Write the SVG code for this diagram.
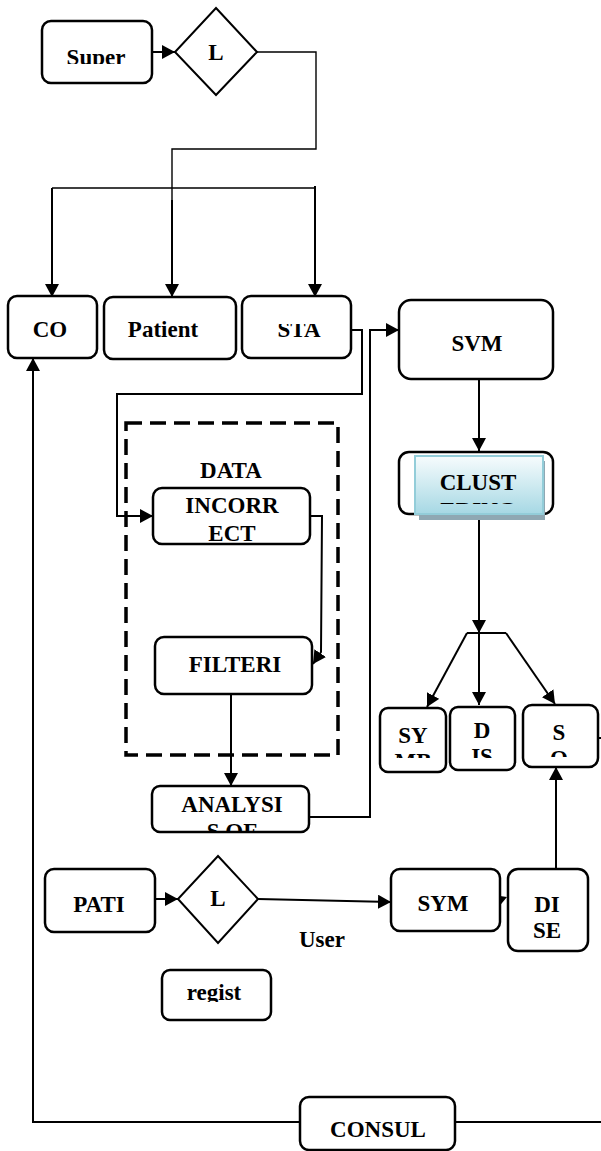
<svg xmlns="http://www.w3.org/2000/svg" width="601" height="1151" viewBox="0 0 601 1151">
  <style>
    .box { fill: #ffffff; stroke: #000000; stroke-width: 2.5; }
    .dia { fill: #ffffff; stroke: #000000; stroke-width: 2; }
    .lbl { font-family: "Liberation Serif", "Times New Roman", serif; font-weight: bold; font-size: 23px; fill: #000000; text-anchor: middle; }
    .wire { fill: none; stroke: #000000; stroke-width: 2; }
    .thin { fill: none; stroke: #000000; stroke-width: 1.4; }
    .dash { fill: none; stroke: #000000; stroke-width: 3.5; stroke-dasharray: 16 8; }
  </style>
  <defs>
    <marker id="arrow" markerUnits="userSpaceOnUse" markerWidth="14" markerHeight="14" refX="13" refY="7" orient="auto">
      <path d="M0,0 L13,7 L0,14 Z" fill="#000000"/>
    </marker>
    <linearGradient id="clusterFill" x1="0" y1="0" x2="0" y2="1">
      <stop offset="0" stop-color="#f7fcfd"/>
      <stop offset="1" stop-color="#a6d8e4"/>
    </linearGradient>
    <clipPath id="clipSuper"><rect x="42" y="21" width="110" height="43"/></clipPath>
    <clipPath id="clipSta"><rect x="242" y="324" width="109" height="34"/></clipPath>
    <clipPath id="clipIncorrect"><rect x="153" y="488" width="157" height="55"/></clipPath>
    <clipPath id="clipCluster"><rect x="415" y="456" width="128" height="48"/></clipPath>
    <clipPath id="clipAnalysis"><rect x="152" y="786" width="157" height="45"/></clipPath>
    <clipPath id="clipSymb"><rect x="380" y="708" width="66" height="50"/></clipPath>
    <clipPath id="clipDis"><rect x="450" y="707" width="65" height="51"/></clipPath>
    <clipPath id="clipSo"><rect x="523" y="705" width="75" height="52"/></clipPath>
    <clipPath id="clipRegist"><rect x="162" y="970" width="109" height="32"/></clipPath>
  </defs>

  <!-- connectors -->
  <g id="connectors">
    <path class="wire" d="M152,52 H175" marker-end="url(#arrow)"/>
    <path class="thin" d="M257,52 H316 V149 H172 V298" />
    <path class="wire" d="M172,200 V297" marker-end="url(#arrow)"/>
    <path class="thin" d="M52,188 H315 V186"/>
    <path class="wire" d="M52,188 V297" marker-end="url(#arrow)"/>
    <path class="wire" d="M315,186 V297" marker-end="url(#arrow)"/>
    <path class="wire" d="M351,330 H362 V394 H117 V516 H153" marker-end="url(#arrow)"/>
    <path class="wire" d="M309,817 H370 V330 H399" marker-end="url(#arrow)"/>
    <path class="wire" d="M479,379 V451" marker-end="url(#arrow)"/>
    <path class="wire" d="M310,516 H322 L321,652 L313,664" marker-end="url(#arrow)"/>
    <path class="wire" d="M231,694 V786" marker-end="url(#arrow)"/>
    <path class="wire" d="M479,514 V633" marker-end="url(#arrow)"/>
    <path class="wire" d="M467,633 H506"/>
    <path class="wire" d="M467,633 L427,707" marker-end="url(#arrow)"/>
    <path class="wire" d="M479,633 V705" marker-end="url(#arrow)"/>
    <path class="wire" d="M506,633 L555,704" marker-end="url(#arrow)"/>
    <path class="wire" d="M598,738 H601"/>
    <path class="wire" d="M155,899 H178" marker-end="url(#arrow)"/>
    <path class="wire" d="M258,899 L391,902" marker-end="url(#arrow)"/>
    <polygon points="493,895 507,897 497,909" fill="#000000"/>
    <path class="wire" d="M556,869 V767" marker-end="url(#arrow)"/>
    <path class="wire" d="M300,1122 H33 V358" marker-end="url(#arrow)"/>
    <path class="wire" d="M455,1122 H601"/>
  </g>

  <g id="super">
    <rect class="box" x="42" y="21" width="110" height="62" rx="9"/>
    <text class="lbl" x="96" y="65" clip-path="url(#clipSuper)">Super</text>
  </g>
  <g id="login-top">
    <polygon class="dia" points="216,8 257,52 216,95 175,52"/>
    <text class="lbl" x="216" y="60">L</text>
  </g>
  <g id="co">
    <rect class="box" x="8" y="296" width="89" height="62" rx="9"/>
    <text class="lbl" x="50" y="337">CO</text>
  </g>
  <g id="patient">
    <rect class="box" x="104" y="297" width="132" height="62" rx="9"/>
    <text class="lbl" x="163" y="337">Patient</text>
  </g>
  <g id="sta">
    <rect class="box" x="242" y="296" width="109" height="62" rx="9"/>
    <text class="lbl" x="299" y="337" clip-path="url(#clipSta)">STA</text>
  </g>
  <g id="svm">
    <rect class="box" x="399" y="300" width="154" height="79" rx="12"/>
    <text class="lbl" x="477" y="351">SVM</text>
  </g>
  <g id="data-group">
    <rect class="dash" x="126" y="423" width="212" height="332"/>
    <text class="lbl" x="231" y="478">DATA</text>
  </g>
  <g id="incorrect">
    <rect class="box" x="153" y="488" width="157" height="56" rx="9"/>
    <g clip-path="url(#clipIncorrect)">
      <text class="lbl" x="232" y="513">INCORR</text>
      <text class="lbl" x="232" y="541">ECT</text>
    </g>
  </g>
  <g id="clustering">
    <rect class="box" x="399" y="452" width="154" height="62" rx="10"/>
    <rect x="419" y="461" width="126" height="59" fill="#8fa8b3"/>
    <rect x="415" y="456" width="128" height="58" fill="url(#clusterFill)" stroke="#93cdd9" stroke-width="2"/>
    <g clip-path="url(#clipCluster)">
      <text class="lbl" x="478" y="490">CLUST</text>
      <text class="lbl" x="478" y="518">ERING</text>
    </g>
  </g>
  <g id="filtering">
    <rect class="box" x="155" y="637" width="157" height="57" rx="9"/>
    <text class="lbl" x="235" y="672">FILTERI</text>
  </g>
  <g id="analysis">
    <rect class="box" x="152" y="786" width="157" height="46" rx="8"/>
    <g clip-path="url(#clipAnalysis)">
      <text class="lbl" x="232" y="812">ANALYSI</text>
      <text class="lbl" x="232" y="839">S OF</text>
    </g>
  </g>
  <g id="symb">
    <rect class="box" x="380" y="708" width="66" height="64" rx="8"/>
    <g clip-path="url(#clipSymb)">
      <text class="lbl" x="413" y="743">SY</text>
      <text class="lbl" x="413" y="769">MB</text>
    </g>
  </g>
  <g id="dis">
    <rect class="box" x="450" y="707" width="65" height="63" rx="8"/>
    <g clip-path="url(#clipDis)">
      <text class="lbl" x="482" y="738">D</text>
      <text class="lbl" x="482" y="764">IS</text>
    </g>
  </g>
  <g id="so">
    <rect class="box" x="523" y="705" width="75" height="62" rx="9"/>
    <g clip-path="url(#clipSo)">
      <text class="lbl" x="559" y="740">S</text>
      <text class="lbl" x="559" y="766">O</text>
    </g>
  </g>
  <g id="pati">
    <rect class="box" x="45" y="869" width="110" height="63" rx="9"/>
    <text class="lbl" x="99" y="912">PATI</text>
  </g>
  <g id="login-bottom">
    <polygon class="dia" points="218,856 258,899 218,943 178,899"/>
    <text class="lbl" x="218" y="906">L</text>
  </g>
  <g id="user-label">
    <text class="lbl" x="322" y="947">User</text>
  </g>
  <g id="sym">
    <rect class="box" x="391" y="869" width="109" height="62" rx="9"/>
    <text class="lbl" x="443" y="911">SYM</text>
  </g>
  <g id="dise">
    <rect class="box" x="508" y="869" width="80" height="82" rx="10"/>
    <text class="lbl" x="547" y="912">DI</text>
    <text class="lbl" x="547" y="938">SE</text>
  </g>
  <g id="regist">
    <rect class="box" x="162" y="970" width="109" height="50" rx="8"/>
    <text class="lbl" x="214" y="1000" clip-path="url(#clipRegist)">regist</text>
  </g>
  <g id="consul">
    <rect class="box" x="300" y="1097" width="155" height="53" rx="9"/>
    <text class="lbl" x="378" y="1137">CONSUL</text>
  </g>
</svg>
